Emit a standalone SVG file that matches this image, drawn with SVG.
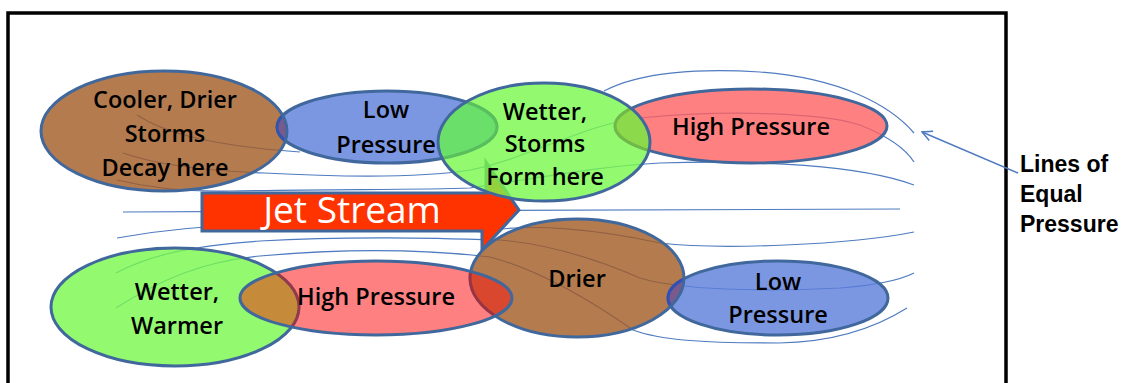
<svg xmlns="http://www.w3.org/2000/svg" width="1132" height="383" viewBox="0 0 1132 383">
<style>
.iso{fill:none;stroke:#4F7BC0;stroke-width:1.2}
.fbr{fill:#A15A23;fill-opacity:.8}
.fbl{fill:#5B7DDB;fill-opacity:.8}
.fgr{fill:#78F94C;fill-opacity:.8}
.frd{fill:#FF6060;fill-opacity:.8}
.ol{fill:none;stroke:#41689C;stroke-width:3}
.t{font-family:"Open Sans","Liberation Sans",sans-serif;font-size:23.5px;font-weight:600;fill:#000;text-anchor:middle}
</style>
<defs>
<clipPath id="c-brown1"><ellipse cx="164" cy="131" rx="123" ry="60"/></clipPath>
<clipPath id="c-green1"><ellipse cx="544" cy="142" rx="106" ry="59"/></clipPath>
<clipPath id="c-drier"><ellipse cx="577" cy="278" rx="107" ry="59"/></clipPath>
<clipPath id="c-red2"><ellipse cx="376" cy="298" rx="136" ry="37"/></clipPath>
<marker id="open" viewBox="0 0 12 12" refX="11" refY="6" markerWidth="12" markerHeight="12" markerUnits="userSpaceOnUse" orient="auto">
<path d="M1,1 L11,6 L1,11" fill="none" stroke="#4F7BC0" stroke-width="1.5"/>
</marker>
</defs>
<rect width="1132" height="383" fill="#fff"/>
<path d="M8,400 L8,13 L1006,13 L1006,400" fill="none" stroke="#000" stroke-width="3.5"/>

<g id="connectors">
<path class="iso" d="M137,115 C160,130 200,145 300,152"/>
<path class="iso" d="M123,153 C160,166 210,171 264,173 C340,177 420,178 470,170 C530,158 585,124 640,118 C720,110 820,112 860,125 C885,135 905,148 914,162"/>
<path class="iso" d="M117,180 C150,188 190,192 230,191 C330,189 420,190 470,188 C540,178 600,166 660,163 C760,160 860,165 914,185"/>
<path class="iso" d="M604,91 C640,72 700,68 760,72 C840,78 890,105 914,133"/>
<path class="iso" d="M123,212 C400,211 700,208 900,209"/>
<path class="iso" d="M117,238 C160,230 200,226 250,225 C330,224 420,226 482,232 C530,222 600,230 660,243 C720,250 850,245 914,232"/>
<path class="iso" d="M116,273 C150,255 190,246 260,241 C350,236 430,238 500,240 C560,245 610,265 640,278 C680,290 760,292 840,288 C880,285 900,280 914,273"/>
<path class="iso" d="M116,308 C160,280 200,262 260,256 C350,248 430,250 490,257 C540,270 590,300 633,330 C660,340 700,343 779,343 C840,342 880,325 907,308"/>
<path d="M1018,173 L922,132" fill="none" stroke="#4F7BC0" stroke-width="1.5" marker-end="url(#open)"/>
</g>

<g id="jet-stream">
<path d="M202,193 L486,193 L486,162 L519,210 L482,250 L482,231 L202,231 Z" fill="#FF3300" stroke="#41689C" stroke-width="3" stroke-linejoin="miter"/>
<text x="352" y="223" font-family="'Open Sans','Liberation Sans',sans-serif" font-size="37" fill="#fff" text-anchor="middle">Jet Stream</text>
</g>

<g id="low-pressure-top">
<ellipse class="fbl" cx="387" cy="127" rx="110" ry="36"/>
<ellipse class="ol" cx="387" cy="127" rx="110" ry="36"/>
<text class="t" x="386" y="118">Low</text>
<text class="t" x="386" y="153">Pressure</text>
</g>

<g id="cooler-drier">
<ellipse class="fbr" cx="164" cy="131" rx="123" ry="60"/>
<ellipse cx="387" cy="127" rx="110" ry="36" fill="#7A5A8C" clip-path="url(#c-brown1)"/>
<ellipse cx="387" cy="127" rx="110" ry="36" fill="none" stroke="#2E55B0" stroke-width="3" clip-path="url(#c-brown1)"/>
<ellipse class="ol" cx="164" cy="131" rx="123" ry="60"/>
<text class="t" x="165" y="108">Cooler, Drier</text>
<text class="t" x="165" y="142">Storms</text>
<text class="t" x="165" y="176">Decay here</text>
</g>

<g id="high-pressure-top">
<ellipse class="frd" cx="751" cy="126" rx="136" ry="37"/>
<ellipse class="ol" cx="751" cy="126" rx="136" ry="37"/>
<text class="t" x="751" y="135">High Pressure</text>
</g>

<g id="wetter-storms">
<ellipse class="fgr" cx="544" cy="142" rx="106" ry="59"/>
<ellipse cx="387" cy="127" rx="110" ry="36" fill="#6ADF6A" clip-path="url(#c-green1)"/>
<ellipse cx="751" cy="126" rx="136" ry="37" fill="#8DD94C" clip-path="url(#c-green1)"/>
<ellipse cx="387" cy="127" rx="110" ry="36" fill="none" stroke="#58BE5E" stroke-width="3" clip-path="url(#c-green1)"/>
<ellipse cx="751" cy="126" rx="136" ry="37" fill="none" stroke="#70B84A" stroke-width="3" clip-path="url(#c-green1)"/>
<ellipse class="ol" cx="544" cy="142" rx="106" ry="59"/>
<text class="t" x="545" y="120">Wetter,</text>
<text class="t" x="545" y="152">Storms</text>
<text class="t" x="545" y="185">Form here</text>
</g>

<g id="low-pressure-bottom">
<ellipse class="fbl" cx="778" cy="298" rx="110" ry="37"/>
<ellipse class="ol" cx="778" cy="298" rx="110" ry="37"/>
<text class="t" x="778" y="290">Low</text>
<text class="t" x="778" y="323">Pressure</text>
</g>

<g id="drier">
<ellipse class="fbr" cx="577" cy="278" rx="107" ry="59"/>
<ellipse cx="778" cy="298" rx="110" ry="37" fill="#7A5A8C" clip-path="url(#c-drier)"/>
<ellipse cx="778" cy="298" rx="110" ry="37" fill="none" stroke="#2F50B8" stroke-width="3" clip-path="url(#c-drier)"/>
<ellipse class="ol" cx="577" cy="278" rx="107" ry="59"/>
<text class="t" x="577" y="287">Drier</text>
</g>

<g id="wetter-warmer">
<ellipse class="fgr" cx="175" cy="307" rx="124" ry="59"/>
<ellipse class="ol" cx="175" cy="307" rx="124" ry="59"/>
<text class="t" x="177" y="300">Wetter,</text>
<text class="t" x="177" y="334">Warmer</text>
</g>

<g id="high-pressure-bottom">
<ellipse class="frd" cx="376" cy="298" rx="136" ry="37"/>
<ellipse cx="577" cy="278" rx="107" ry="59" fill="#D9472F" clip-path="url(#c-red2)"/>
<ellipse cx="175" cy="307" rx="124" ry="59" fill="#C68A3B" clip-path="url(#c-red2)"/>
<ellipse cx="577" cy="278" rx="107" ry="59" fill="none" stroke="#983444" stroke-width="3" clip-path="url(#c-red2)"/>
<ellipse cx="175" cy="307" rx="124" ry="59" fill="none" stroke="#8E3B4E" stroke-width="3" clip-path="url(#c-red2)"/>
<ellipse class="ol" cx="376" cy="298" rx="136" ry="37"/>
<text class="t" x="376" y="305">High Pressure</text>
</g>

<g id="label-lines">
<text font-family="'Liberation Sans',Arial,sans-serif" font-size="23" font-weight="bold" fill="#000">
<tspan x="1020" y="172">Lines of</tspan>
<tspan x="1020" y="202">Equal</tspan>
<tspan x="1020" y="232">Pressure</tspan>
</text>
</g>
</svg>
